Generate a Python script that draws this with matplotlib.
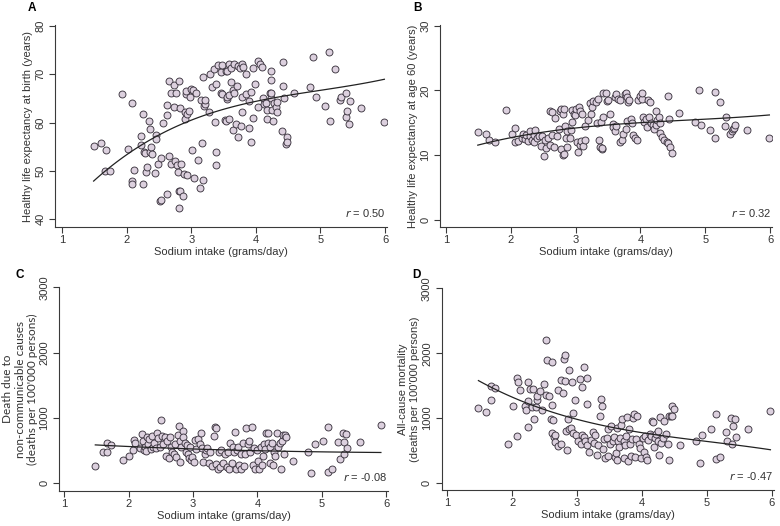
import numpy as np
import matplotlib
matplotlib.use("Agg")
import matplotlib.pyplot as plt

plt.rcParams['font.family'] = ['Liberation Sans', 'DejaVu Sans']

# Panel A: healthy life expectancy at birth
xa = [1.49, 1.61, 1.68, 1.66, 1.74, 1.93, 2.02, 2.08, 2.09, 2.09, 2.12, 2.22, 2.23, 2.25, 2.25,
      2.27, 2.29, 2.30, 2.32, 2.34, 2.37, 2.37, 2.38, 2.39, 2.44, 2.46, 2.46, 2.49, 2.52, 2.54,
      2.54, 2.57, 2.62, 2.63, 2.63, 2.65, 2.65, 2.68, 2.69, 2.74, 2.74, 2.75, 2.77, 2.78, 2.79,
      2.81, 2.81, 2.82, 2.81, 2.82, 2.85, 2.88, 2.89, 2.90, 2.91, 2.92, 2.92, 2.93, 2.94, 2.96,
      2.98, 3.00, 3.01, 3.03, 3.05, 3.07, 3.10, 3.13, 3.15, 3.16, 3.18, 3.19, 3.20, 3.21, 3.22,
      3.28, 3.29, 3.32, 3.35, 3.37, 3.38, 3.39, 3.39, 3.42, 3.46, 3.46, 3.47, 3.48, 3.52, 3.54,
      3.54, 3.55, 3.55, 3.55, 3.59, 3.59, 3.59, 3.61, 3.62, 3.64, 3.65, 3.67, 3.67, 3.70, 3.71,
      3.72, 3.73, 3.75, 3.77, 3.78, 3.79, 3.79, 3.80, 3.85, 3.85, 3.89, 3.90, 3.92, 3.92, 3.95,
      3.96, 3.99, 4.03, 4.03, 4.07, 4.10, 4.11, 4.12, 4.16, 4.17, 4.18, 4.22, 4.23, 4.24, 4.24,
      4.24, 4.25, 4.27, 4.28, 4.31, 4.33, 4.33, 4.41, 4.42, 4.42, 4.43, 4.46, 4.48, 4.49, 4.59,
      4.84, 4.89, 4.93, 5.07, 5.14, 5.15, 5.22, 5.31, 5.32, 5.39, 5.39, 5.41, 5.44, 5.46, 5.63,
      5.99]
ya = [55.2, 55.8, 54.4, 50.0, 50.0, 65.9, 54.5, 64.1, 47.9, 47.3, 50.1, 55.4, 57.2, 61.7, 47.3,
      53.9, 53.8, 49.7, 50.9, 60.3, 58.7, 53.9, 54.9, 53.6, 49.6, 57.5, 56.7, 51.4, 43.7, 52.6,
      44.0, 60.0, 63.7, 61.6, 45.3, 68.7, 53.1, 66.2, 51.4, 67.8, 63.3, 52.0, 66.2, 51.2, 49.8,
      68.6, 45.8, 45.9, 42.4, 63.0, 51.4, 44.8, 49.4, 62.3, 60.7, 65.9, 66.6, 49.2, 61.8, 62.4,
      65.3, 66.9, 54.3, 66.7, 48.5, 66.1, 52.2, 46.4, 64.6, 55.8, 48.1, 69.4, 63.5, 63.9, 64.6,
      62.3, 70.1, 67.4, 71.1, 60.1, 54.0, 68.0, 51.3, 72.0, 70.5, 66.2, 65.9, 71.9, 60.5, 70.6,
      60.4, 64.9, 70.7, 65.4, 72.2, 65.8, 60.8, 68.5, 71.3, 66.7, 58.4, 72.1, 66.2, 59.8, 67.6,
      71.8, 57.1, 71.4, 59.4, 72.1, 65.2, 62.1, 71.6, 70.1, 65.9, 64.4, 58.9, 66.4, 55.9, 71.2,
      61.0, 67.9, 72.8, 63.3, 72.2, 71.5, 65.0, 63.9, 64.0, 60.8, 62.6, 66.2, 65.0, 70.6, 68.9,
      66.1, 62.7, 60.4, 64.0, 63.2, 62.1, 64.2, 58.3, 72.5, 67.6, 65.0, 55.6, 57.1, 55.9, 66.2,
      67.3, 73.6, 65.2, 63.4, 74.6, 60.3, 71.1, 64.7, 65.3, 66.2, 61.1, 62.4, 59.8, 64.4, 63.1,
      60.1]

# Panel B: healthy life expectancy at age 60
xb = [1.49, 1.61, 1.67, 1.75, 1.93, 2.02, 2.07, 2.07, 2.11, 2.17, 2.19, 2.22, 2.24, 2.27, 2.29,
      2.30, 2.33, 2.35, 2.36, 2.38, 2.41, 2.44, 2.46, 2.48, 2.51, 2.52, 2.54, 2.57, 2.60, 2.61,
      2.63, 2.64, 2.66, 2.68, 2.71, 2.74, 2.76, 2.77, 2.78, 2.80, 2.81, 2.82, 2.82, 2.84, 2.85,
      2.86, 2.87, 2.92, 2.93, 2.95, 2.95, 2.97, 2.99, 3.01, 3.02, 3.03, 3.05, 3.06, 3.07, 3.09,
      3.10, 3.12, 3.14, 3.15, 3.19, 3.22, 3.24, 3.26, 3.27, 3.32, 3.33, 3.35, 3.36, 3.38, 3.39,
      3.40, 3.41, 3.43, 3.43, 3.47, 3.49, 3.50, 3.53, 3.57, 3.58, 3.60, 3.60, 3.62, 3.63, 3.65,
      3.68, 3.68, 3.71, 3.73, 3.76, 3.77, 3.78, 3.79, 3.79, 3.81, 3.83, 3.85, 3.87, 3.89, 3.91,
      3.94, 3.97, 4.00, 4.02, 4.03, 4.04, 4.06, 4.09, 4.10, 4.12, 4.13, 4.15, 4.16, 4.19, 4.21,
      4.24, 4.24, 4.26, 4.28, 4.30, 4.30, 4.33, 4.36, 4.41, 4.42, 4.43, 4.44, 4.46, 4.48, 4.60,
      4.84, 4.90, 4.94, 5.07, 5.15, 5.15, 5.23, 5.31, 5.32, 5.39, 5.41, 5.43, 5.44, 5.46, 5.64,
      5.99]
yb = [13.6, 13.3, 12.3, 12.0, 16.9, 13.3, 14.2, 12.1, 12.2, 12.7, 13.2, 12.5, 13.1, 12.2, 12.9,
      13.7, 12.4, 13.1, 12.0, 13.9, 12.6, 13.0, 11.4, 12.9, 9.8, 12.4, 11.1, 12.6, 11.5, 16.8,
      13.1, 16.6, 11.3, 15.7, 12.9, 14.1, 16.8, 11.0, 17.2, 10.0, 16.4, 10.2, 17.2, 14.5, 12.6,
      13.8, 11.3, 12.7, 13.9, 15.1, 16.9, 16.4, 16.2, 17.2, 12.1, 10.5, 17.5, 16.8, 11.5, 12.2,
      16.3, 11.4, 12.3, 14.5, 15.4, 18.1, 16.4, 17.5, 18.4, 18.2, 14.9, 18.6, 12.4, 11.3, 15.1,
      10.9, 11.1, 15.9, 19.6, 19.6, 18.4, 18.5, 16.4, 14.8, 14.4, 19.0, 13.8, 19.4, 14.5, 18.7,
      18.5, 12.1, 12.3, 13.3, 19.4, 14.1, 19.6, 19.0, 15.3, 18.2, 18.5, 15.6, 14.9, 13.1, 12.6,
      12.3, 18.5, 19.2, 18.7, 19.6, 15.9, 15.1, 15.6, 14.4, 18.5, 15.9, 18.2, 14.9, 14.6, 14.1,
      14.6, 16.8, 15.4, 15.9, 14.9, 13.4, 12.8, 12.3, 12.1, 19.2, 11.8, 15.6, 11.3, 10.3, 16.5,
      15.1, 20.1, 14.6, 13.9, 19.8, 12.7, 18.2, 14.5, 15.9, 13.3, 13.7, 14.1, 14.2, 14.6, 13.9,
      12.7]

# Panel C: deaths due to non-communicable causes
xc = [1.48, 1.60, 1.66, 1.66, 1.72, 1.91, 2.00, 2.06, 2.08, 2.10, 2.18, 2.20, 2.22, 2.24, 2.25,
      2.27, 2.28, 2.30, 2.32, 2.34, 2.36, 2.38, 2.40, 2.42, 2.44, 2.46, 2.48, 2.50, 2.52, 2.54,
      2.56, 2.58, 2.60, 2.62, 2.64, 2.66, 2.68, 2.70, 2.72, 2.74, 2.76, 2.78, 2.79, 2.80, 2.82,
      2.84, 2.85, 2.87, 2.89, 2.90, 2.92, 2.94, 2.95, 2.97, 2.99, 3.01, 3.03, 3.05, 3.07, 3.10,
      3.12, 3.14, 3.16, 3.18, 3.20, 3.22, 3.25, 3.27, 3.30, 3.32, 3.34, 3.35, 3.36, 3.38, 3.40,
      3.42, 3.44, 3.47, 3.50, 3.52, 3.54, 3.56, 3.58, 3.60, 3.62, 3.63, 3.65, 3.66, 3.68, 3.70,
      3.72, 3.74, 3.75, 3.77, 3.79, 3.80, 3.83, 3.85, 3.87, 3.89, 3.91, 3.93, 3.95, 3.97, 3.99,
      4.01, 4.03, 4.05, 4.07, 4.09, 4.10, 4.12, 4.14, 4.16, 4.17, 4.19, 4.20, 4.22, 4.24, 4.26,
      4.28, 4.30, 4.32, 4.35, 4.37, 4.38, 4.40, 4.42, 4.43, 4.45, 4.55, 4.78, 4.84, 4.89, 5.02,
      5.09, 5.09, 5.16, 5.26, 5.29, 5.33, 5.35, 5.38, 5.40, 5.35, 5.59, 5.92]
yc = [265, 475, 475, 607, 582, 347, 418, 510, 663, 612, 540, 750, 650, 510, 560,
      490, 700, 600, 680, 520, 720, 560, 620, 530, 770, 690, 560, 960, 720, 600,
      700, 420, 650, 380, 700, 560, 470, 440, 600, 400, 740, 880, 330, 650, 560,
      800, 700, 620, 470, 580, 440, 390, 560, 350, 400, 320, 660, 520, 680, 600,
      760, 530, 330, 450, 500, 530, 310, 470, 260, 720, 860, 840, 290, 210, 480,
      250, 510, 300, 450, 250, 470, 210, 620, 300, 560, 470, 780, 220, 500, 560,
      270, 440, 220, 610, 260, 450, 840, 600, 650, 480, 860, 280, 530, 210, 500,
      340, 220, 560, 270, 420, 600, 520, 760, 620, 760, 300, 560, 620, 270, 480,
      420, 760, 560, 620, 220, 640, 740, 450, 730, 700, 341, 479, 148, 592, 648,
      853, 173, 209, 632, 362, 770, 623, 745, 531, 444, 632, 888]

# Panel D: all-cause mortality
xd = [1.48, 1.60, 1.67, 1.67, 1.74, 1.93, 2.01, 2.07, 2.07, 2.09, 2.12, 2.20, 2.22, 2.24, 2.25,
      2.25, 2.28, 2.30, 2.32, 2.33, 2.37, 2.38, 2.39, 2.43, 2.46, 2.49, 2.52, 2.52, 2.54, 2.56,
      2.60, 2.62, 2.62, 2.62, 2.63, 2.64, 2.66, 2.66, 2.70, 2.71, 2.75, 2.76, 2.78, 2.80, 2.81,
      2.82, 2.83, 2.85, 2.86, 2.88, 2.88, 2.91, 2.92, 2.94, 2.94, 2.97, 2.98, 3.01, 3.04, 3.06,
      3.07, 3.07, 3.10, 3.11, 3.12, 3.15, 3.15, 3.16, 3.19, 3.22, 3.25, 3.26, 3.28, 3.30, 3.33,
      3.36, 3.37, 3.38, 3.40, 3.41, 3.43, 3.46, 3.47, 3.48, 3.50, 3.53, 3.55, 3.57, 3.58, 3.60,
      3.61, 3.62, 3.63, 3.65, 3.66, 3.68, 3.70, 3.72, 3.73, 3.74, 3.76, 3.77, 3.79, 3.80, 3.82,
      3.83, 3.85, 3.86, 3.88, 3.89, 3.91, 3.93, 3.95, 3.97, 3.99, 4.01, 4.03, 4.05, 4.07, 4.08,
      4.10, 4.12, 4.14, 4.16, 4.17, 4.19, 4.20, 4.22, 4.24, 4.25, 4.27, 4.28, 4.30, 4.32, 4.34,
      4.37, 4.40, 4.42, 4.42, 4.45, 4.46, 4.47, 4.49, 4.59, 4.83, 4.89, 4.92, 5.06, 5.14, 5.14,
      5.20, 5.30, 5.31, 5.38, 5.39, 5.41, 5.44, 5.45, 5.63, 5.98]
yd = [1160, 1090, 1500, 1280, 1460, 595, 1190, 725, 1615, 1550, 1440, 1190, 1130, 870, 1560,
      1270, 1455, 1170, 1450, 980, 1165, 1280, 1340, 1415, 1130, 1520, 2200, 1350, 1890, 1340,
      980, 1870, 1200, 770, 970, 710, 745, 625, 1440, 575, 600, 1585, 1380, 1905, 1570,
      1975, 800, 510, 990, 1740, 835, 855, 1550, 1080, 775, 1280, 740, 640, 1610, 600,
      1480, 740, 715, 1790, 640, 1215, 1625, 590, 480, 665, 790, 620, 740, 430, 590,
      1030, 1300, 1190, 530, 680, 380, 690, 840, 420, 600, 875, 640, 710, 400, 470,
      350, 850, 650, 560, 700, 900, 980, 640, 380, 590, 720, 1020, 340, 830, 600,
      420, 680, 1000, 1060, 400, 680, 1040, 600, 535, 380, 700, 480, 720, 400, 350,
      660, 760, 730, 960, 940, 560, 700, 760, 800, 650, 430, 1020, 620, 700, 950,
      760, 600, 1040, 355, 1040, 1185, 1040, 1135, 585, 650, 315, 740, 830, 1060, 365,
      395, 790, 650, 995, 595, 880, 985, 715, 825, 1105]

# fitted curves
fit_x = [1.48, 2.0, 2.5, 3.0, 3.5, 4.0, 5.0, 6.0]
fit_a = [47.6, 53.6, 57.6, 60.4, 62.6, 64.2, 67.0, 68.9]
fit_b = [11.5, 12.7, 13.6, 14.2, 14.6, 15.0, 15.6, 16.2]
fit_c = [585, 560, 540, 522, 508, 496, 478, 468]
fit_d = [1580, 1320, 1130, 985, 865, 775, 640, 510]

panels = [
    ("A", xa, ya, fit_a, "Healthy life expectancy at birth (years)", [40, 50, 60, 70, 80],
     (38.4, 80.2), (0.892, 6.03), "0.50", [0.0705, 0.5684, 0.4256, 0.3841]),
    ("B", xb, yb, fit_b, "Healthy life expectancy at age 60 (years)", [0, 10, 20, 30],
     (-1.1, 30.1), (0.907, 6.03), "0.32", [0.5641, 0.5684, 0.4256, 0.3841]),
    ("C", xc, yc, fit_c, "Death due to\nnon-communicable causes\n(deaths per 100'000 persons)",
     [0, 1000, 2000, 3000], (-122, 3005), (0.92, 6.03), "-0.08", [0.076, 0.0665, 0.4214, 0.3879]),
    ("D", xd, yd, fit_d, "All-cause mortality\n(deaths per 100'000 persons)", [0, 1000, 2000, 3000],
     (-103, 3005), (0.914, 6.035), "-0.47", [0.5663, 0.069, 0.426, 0.3835]),
]

fig = plt.figure(figsize=(7.8, 5.26), dpi=100)
edge = "#3a3a3a"

for letter, x, y, fit, ylab, yt, ylim, xlim, r, pos in panels:
    ax = fig.add_axes(pos)
    ax.scatter(x, y, s=25, facecolor="#dcd0de", edgecolor="#3c3540", linewidth=0.65, zorder=3)
    coef = np.polyfit(fit_x, fit, 3)
    xs = np.linspace(min(x), max(x), 120)
    ax.plot(xs, np.polyval(coef, xs), color="#222222", linewidth=0.9, zorder=4)
    ax.set_xlim(xlim)
    ax.set_ylim(ylim)
    ax.set_xticks([1, 2, 3, 4, 5, 6])
    ax.set_yticks(yt)
    for s in ["top", "right"]:
        ax.spines[s].set_visible(False)
    for s in ["left", "bottom"]:
        ax.spines[s].set_color(edge)
        ax.spines[s].set_linewidth(0.8)
    ax.tick_params(colors=edge, labelcolor="#333333", labelsize=8, length=4, width=0.8, pad=2)
    ax.tick_params(axis="y", labelrotation=90, pad=3)
    for lbl in ax.get_yticklabels():
        lbl.set_va("center")
    ax.set_xlabel("Sodium intake (grams/day)", fontsize=8, color="#333333", labelpad=1.5)
    if letter == "C":
        ax.set_ylabel(ylab, fontsize=8.5, color="#333333", family=["Lato", "DejaVu Sans"],
                      labelpad=1, linespacing=1.15)
    else:
        ax.set_ylabel(ylab, fontsize=8, color="#333333", labelpad=1.5, linespacing=1.2)
    ax.text(0.997, 0.07, "$\\it{r}$ = " + r, transform=ax.transAxes, ha="right", va="center",
            fontsize=8, color="#333333")

fig.text(28 / 780, 1 - 8 / 526, "A", fontsize=8.5, fontweight="bold", va="center")
fig.text(413 / 780, 1 - 8 / 526, "B", fontsize=8.5, fontweight="bold", va="center")
fig.text(15 / 780, 1 - 275 / 526, "C", fontsize=8.5, fontweight="bold", va="center")
fig.text(412 / 780, 1 - 275 / 526, "D", fontsize=8.5, fontweight="bold", va="center")

fig.savefig("out.png", dpi=100, facecolor="white")
